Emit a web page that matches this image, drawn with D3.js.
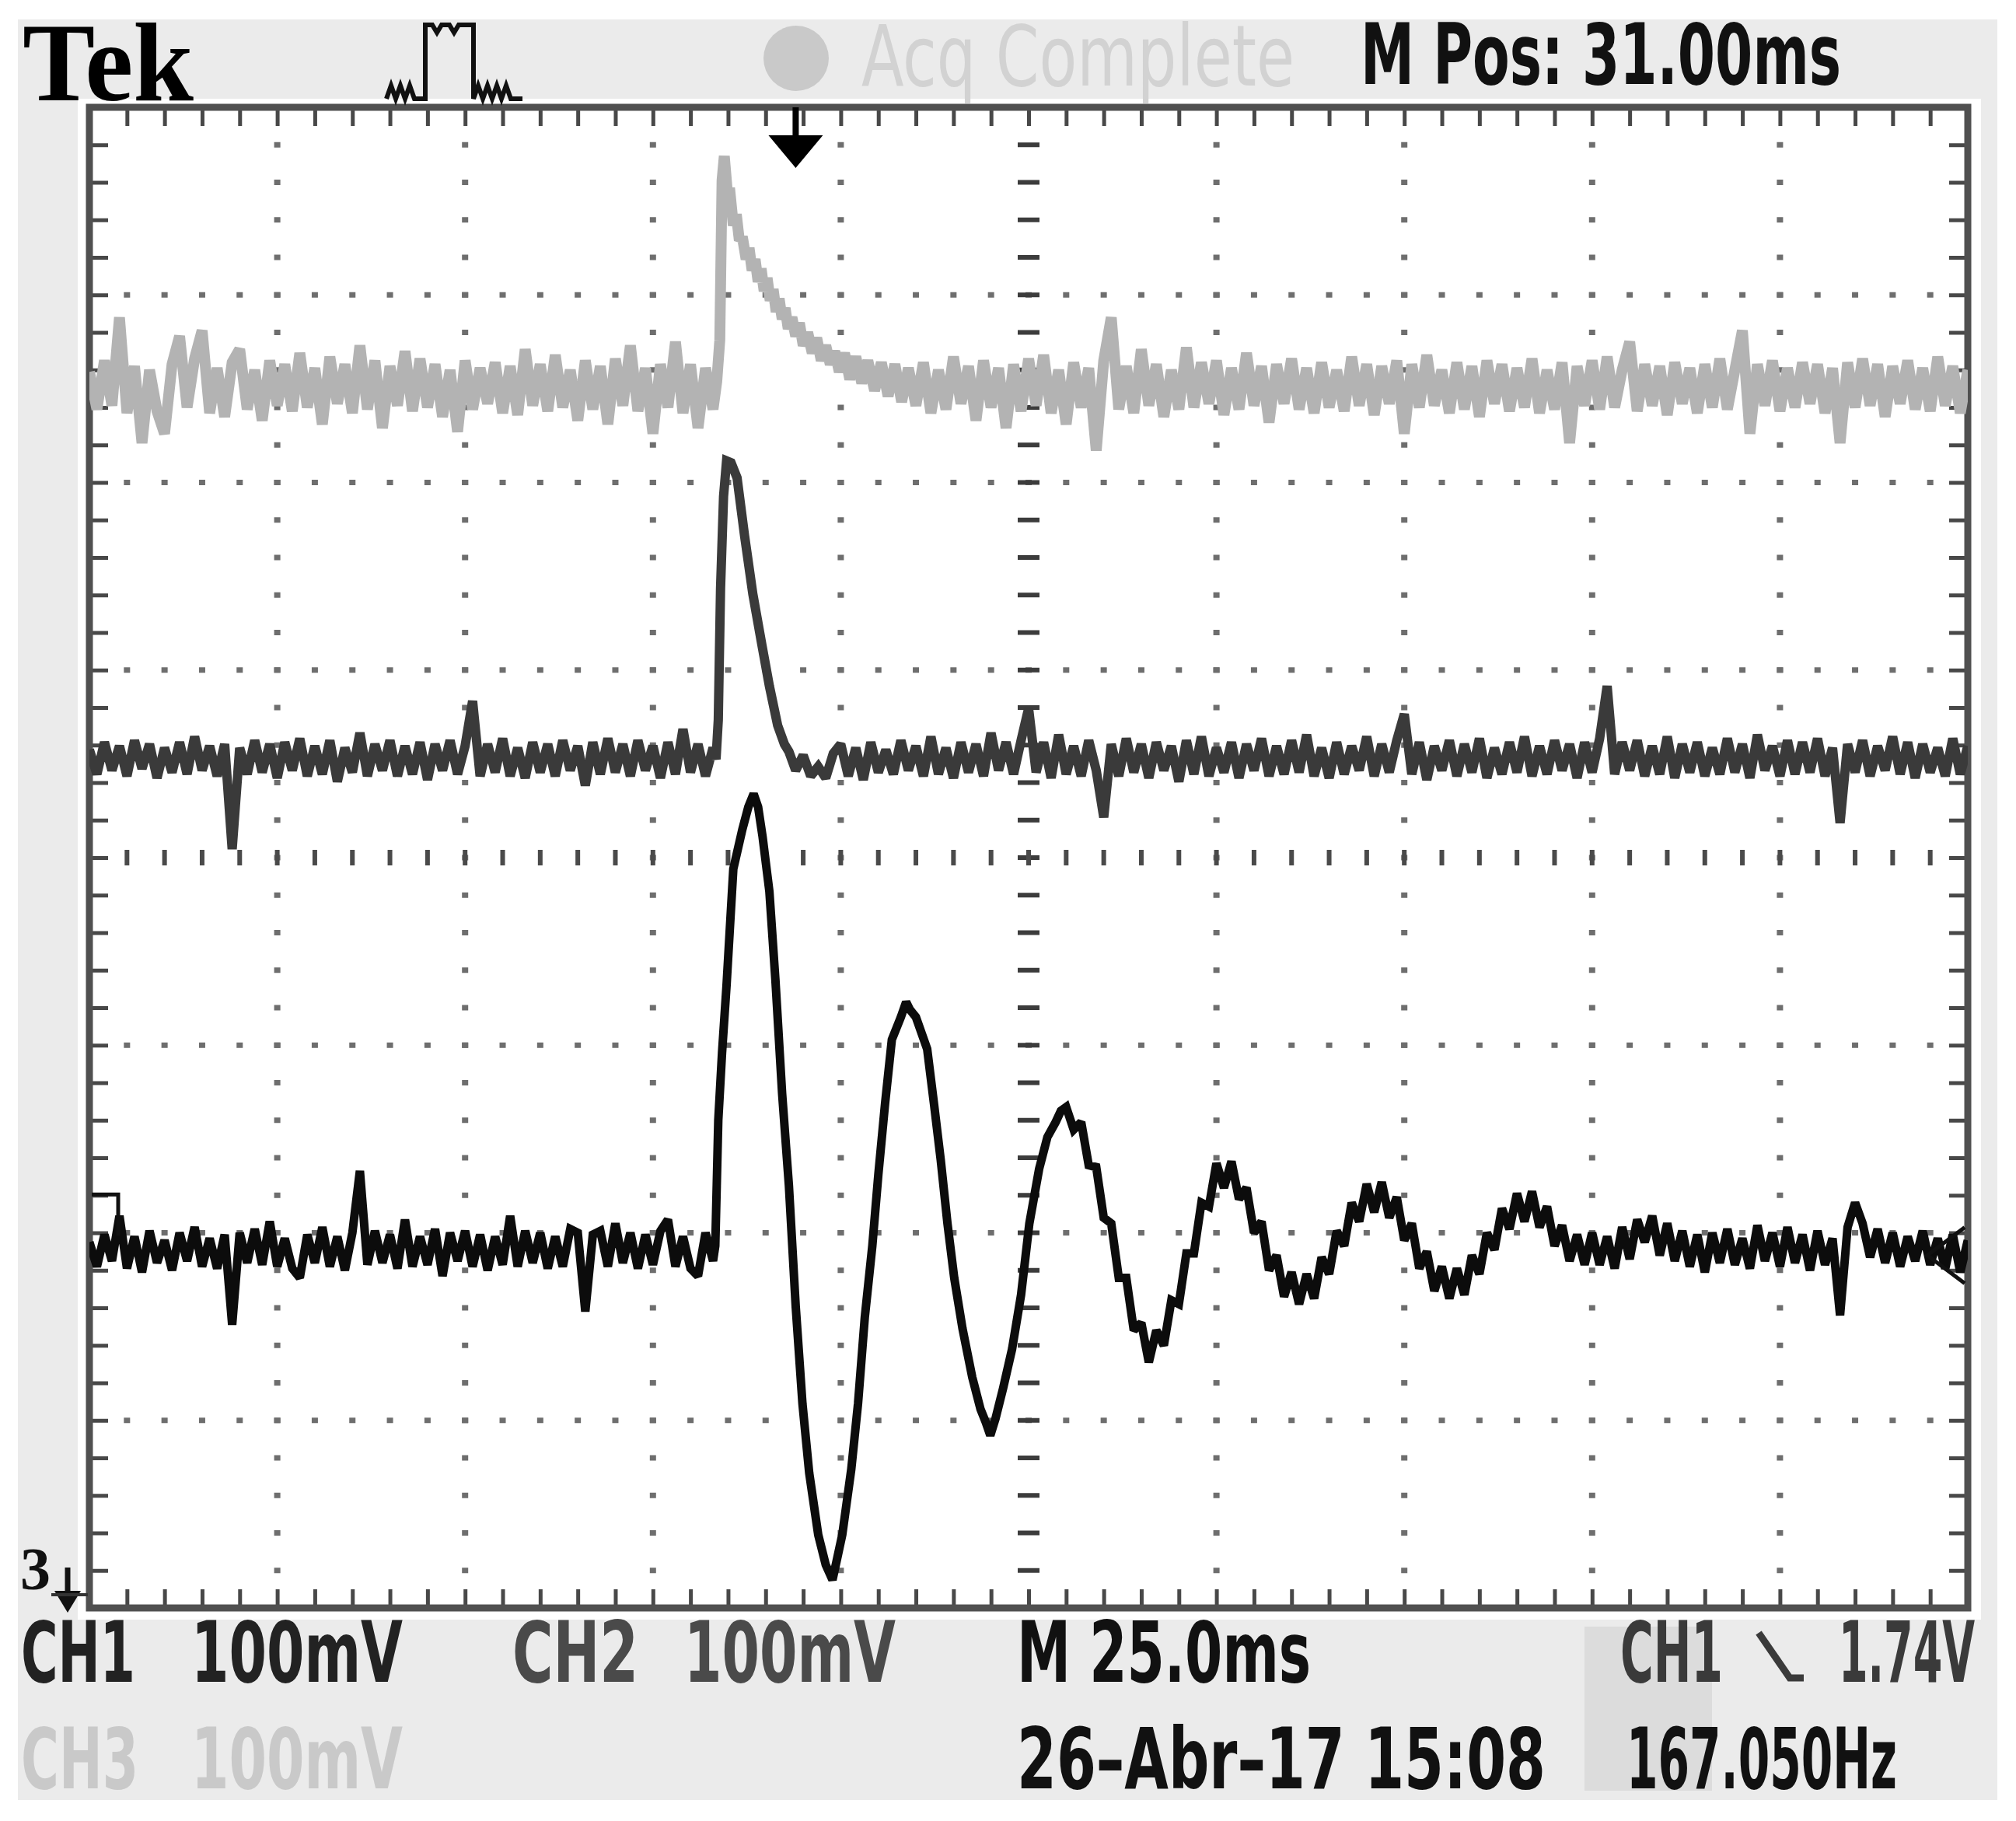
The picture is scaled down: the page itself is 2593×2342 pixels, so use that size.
<!DOCTYPE html>
<html>
<head>
<meta charset="utf-8">
<script src="https://cdn.jsdelivr.net/npm/d3@7"></script>
<style>
  body { margin: 0; background: #fff; }
</style>
</head>
<body>
<div id="chart"></div>
<script>
// ---- data (time in ms relative to trigger, values in mV relative to channel baseline) ----
var time_range = [-94, 156];   // 10 div x 25 ms, trigger 31 ms left of centre
var div_range = [-4, 4];       // 8 vertical divisions, 100 mV/div

var ch1_offset = -2.09;        // channel positions in divisions
var ch2_offset = 0.525;
var ch3_offset = 2.51;

var ch1_points = [
  [-94,4],[-93,-9],[-92,8],[-91,-6],[-90,18],[-89,-10],[-88,7],[-87,-12],[-86,10],[-85,-7],[-84,5],[-83,-11],[-82,9],[-81,-6],[-80,12],[-79,-9],[-78,6],[-77,-10],[-76,8],[-75,-40],
  [-74,9],[-73,-7],[-72,11],[-71,-8],[-70,15],[-69,-9],[-68,6],[-67,-10],[-66,-15],[-65,8],[-64,-7],[-63,12],[-62,-9],[-61,7],[-60,-11],[-59,9],[-58,42],[-57,-8],[-56,10],[-55,-7],
  [-54,8],[-53,-10],[-52,16],[-51,-9],[-50,7],[-49,-8],[-48,11],[-47,-14],[-46,9],[-45,-6],[-44,10],[-43,-9],[-42,8],[-41,-11],[-40,7],[-39,-8],[-38,18],[-37,-9],[-36,10],[-35,-7],
  [-34,9],[-33,-10],[-32,7],[-31,-9],[-30,11],[-29,9],[-28,-33],[-27,8],[-26,10],[-25,-9],[-24,14],[-23,-7],[-22,9],[-21,-10],[-20,8],[-19,-8],[-18,10],[-17,16],[-16,-9],[-15,7],
  [-14,-10],[-13,-14],[-12,9],[-11,-6],
  [-10.7,2],[-10.3,69],[-9.8,105],[-9.2,141],[-8.3,203],[-7.1,224],[-6.3,236],[-5.6,243],[-5,236],[-4.4,220],[-3.5,191],[-2.7,144],[-1.8,83],[-0.9,34],[0,-30],[0.9,-82],
  [1.8,-119],[3,-152],[4,-168],[4.9,-176],[5.5,-165],[6.2,-152],[7.4,-117],[8.3,-82],[9.2,-36],[10.2,2],[11,40],[11.9,78],[12.8,112],[14,124],[14.7,132],[15.2,128],[16,124],
  [17.5,107],[18.4,78],[19.3,48],[20.2,14],[21.1,-15],[22.2,-42],[23.5,-68],[24.6,-85],[25.3,-92],[25.9,-99],[26.6,-90],[27.6,-74],[28.8,-53],[30,-24],[31.1,14],[32.4,43],
  [33.5,60],[34.6,68],[35.3,74],
  [36,76],[37,64],[38,68],[39,45],[40,44],[41,17],[42,14],[43,-15],[44,-15],[45,-43],[46,-39],[47,-60],[48,-43],[49,-51],[50,-27],[51,-29],[52,-2],[53,-2],[54,25],[55,23],
  [56,46],[57,33],[58,47],[59,27],[60,33],[61,9],[62,15],[63,-11],[64,-3],[65,-25],[66,-12],[67,-29],[68,-13],[69,-26],[70,-4],[71,-13],[72,10],[73,2],[74,25],[75,15],
  [76,35],[77,20],[78,36],[79,17],[80,28],[81,5],[82,14],[83,-10],[84,-1],[85,-22],[86,-9],[87,-26],[88,-10],[89,-24],[90,-3],[91,-13],[92,9],[93,0],[94,22],[95,11],
  [96,30],[97,15],[98,31],[99,12],[100,23],[101,2],[102,13],[103,-6],[104,8],[105,-8],
  [106,9],[107,-8],[108,7],[109,-10],[110,12],[111,-5],[112,16],[113,4],[114,18],[115,-3],[116,14],[117,-6],[118,10],[119,-9],[120,8],[121,-12],[122,9],[123,-7],[124,11],[125,-8],
  [126,6],[127,-10],[128,13],[129,-6],[130,9],[131,-9],[132,12],[133,-7],[134,8],[135,-11],[136,10],[137,-8],[138,6],[139,-35],[140,12],[141,25],[142,14],[143,-4],[144,11],[145,-7],
  [146,9],[147,-9],[148,7],[149,-6],[150,10],[151,-8],[152,6],[153,-10],[154,8],[155,-12],[156,5]
];

var ch2_points = [
  [-94,5],[-93,-8],[-92,9],[-91,-6],[-90,7],[-89,-9],[-88,10],[-87,-5],[-86,8],[-85,-10],[-84,6],[-83,-7],[-82,9],[-81,-8],[-80,12],[-79,-6],[-78,7],[-77,-9],[-76,8],[-75,-48],
  [-74,6],[-73,-8],[-72,10],[-71,-7],[-70,8],[-69,-10],[-68,9],[-67,-6],[-66,11],[-65,-9],[-64,7],[-63,-8],[-62,10],[-61,-12],[-60,6],[-59,-7],[-58,14],[-57,-9],[-56,8],[-55,-6],
  [-54,10],[-53,-9],[-52,7],[-51,-8],[-50,9],[-49,-11],[-48,8],[-47,-6],[-46,10],[-45,-8],[-44,7],[-43,31],[-42,-9],[-41,8],[-40,-7],[-39,11],[-38,-9],[-37,6],[-36,-10],[-35,9],
  [-34,-7],[-33,8],[-32,-9],[-31,10],[-30,-6],[-29,7],[-28,-14],[-27,9],[-26,-8],[-25,11],[-24,-7],[-23,8],[-22,-9],[-21,10],[-20,-6],[-19,7],[-18,-10],[-17,9],[-16,-8],[-15,16],
  [-14,-7],[-13,8],[-12,-9],[-11,6],
  [-10.6,0],[-10.3,21],[-10,91],[-9.6,140],[-9.2,159],[-8.6,158],[-7.8,150],[-6.8,119],[-5.7,88],[-4.5,61],[-3.5,39],[-2.4,18],[-1.5,8],[-0.9,4],[0,-6],[1,2],[2,-9],[3,-4],[4,-10],[5,3],
  [6,8],[7,-9],[8,6],[9,-11],[10,9],[11,-7],[12,5],[13,-8],[14,10],[15,-6],[16,7],[17,-9],[18,12],[19,-8],[20,6],[21,-10],[22,9],[23,-7],[24,8],[25,-9],
  [26,14],[27,-6],[28,9],[29,-8],[30,10],[31,27],[32,-7],[33,9],[34,-10],[35,13],[36,-8],[37,7],[38,-9],[39,10],[40,-6],[41,-31],[42,8],[43,-9],[44,11],[45,-7],
  [46,8],[47,-10],[48,9],[49,-6],[50,7],[51,-12],[52,10],[53,-8],[54,12],[55,-9],[56,6],[57,-7],[58,9],[59,-10],[60,8],[61,-6],[62,11],[63,-9],[64,7],[65,-8],
  [66,10],[67,-7],[68,13],[69,-9],[70,6],[71,-10],[72,9],[73,-8],[74,7],[75,-6],[76,12],[77,-9],[78,8],[79,-7],[80,10],[81,24],[82,-8],[83,9],[84,-11],[85,7],
  [86,-6],[87,10],[88,-9],[89,8],[90,-7],[91,11],[92,-10],[93,6],[94,-8],[95,9],[96,-7],[97,12],[98,-9],[99,7],[100,-8],[101,10],[102,-6],[103,8],[104,-10],[105,9],
  [106,-7],[107,11],[108,39],[109,-8],[110,9],[111,-6],[112,10],[113,-9],[114,7],[115,-8],[116,12],[117,-10],[118,8],[119,-7],[120,9],[121,-9],[122,6],[123,-8],[124,11],[125,-7],
  [126,8],[127,-10],[128,13],[129,-6],[130,7],[131,-9],[132,10],[133,-8],[134,9],[135,-7],[136,11],[137,-9],[138,6],[139,-34],[140,8],[141,-7],[142,10],[143,-9],[144,7],[145,-6],
  [146,12],[147,-8],[148,9],[149,-10],[150,8],[151,-7],[152,6],[153,-9],[154,11],[155,-8],[156,7]
];

var ch3_points = [
  [-94,8],[-93,-12],[-92,14],[-91,-10],[-90,37],[-89,-14],[-88,11],[-87,-30],[-86,9],[-85,-13],[-84,-25],[-83,12],[-82,27],[-81,-11],[-80,15],[-79,30],[-78,-14],[-77,10],[-76,-16],[-75,13],
  [-74,20],[-73,-12],[-72,9],[-71,-18],[-70,14],[-69,-10],[-68,12],[-67,-13],[-66,18],[-65,-11],[-64,10],[-63,-20],[-62,16],[-61,-9],[-60,12],[-59,-14],[-58,22],[-57,-12],[-56,14],[-55,-22],
  [-54,11],[-53,-10],[-52,19],[-51,-13],[-50,15],[-49,-11],[-48,12],[-47,-16],[-46,9],[-45,-24],[-44,14],[-43,-12],[-42,10],[-41,-9],[-40,13],[-39,-14],[-38,11],[-37,-15],[-36,20],[-35,-10],
  [-34,12],[-33,-13],[-32,17],[-31,-11],[-30,9],[-29,-18],[-28,14],[-27,-12],[-26,11],[-25,-20],[-24,15],[-23,-10],[-22,22],[-21,-13],[-20,10],[-19,-25],[-18,12],[-17,-11],[-16,24],[-15,-14],
  [-14,12],[-13,-22],[-12,10],[-11,-12],
  [-10.5,3],[-10.1,25],[-9.8,110],[-9.5,123],[-9.1,104],[-8.8,106],[-8.3,86],[-7.9,92],[-7.5,78],[-7.1,80],[-6.6,68],[-6.2,74],[-5.8,62],[-5.4,68],[-5,56],[-4.6,63],[-4.2,51],[-3.8,58],
  [-3.4,46],[-3,52],[-2.6,40],[-2.2,47],[-1.8,36],[-1.4,42],[-1,31],[-0.5,37],[0,27],[0.5,34],[1,22],[1.6,29],[2.2,18],[2.8,26],[3.4,14],[4,22],[4.6,12],[5.2,19],[5.8,8],[6.5,18],
  [7.2,4],[8,16],[8.8,2],[9.6,14],[10.5,-2],[11.4,13],[12.3,-5],[13.2,12],[14.1,-8],[15,10],
  [16,-10],[17,13],[18,-14],[19,9],[20,-12],[21,16],[22,-9],[23,11],[24,-18],[25,14],[26,-11],[27,10],[28,-22],[29,12],[30,-13],[31,15],[32,-10],[33,17],[34,-14],[35,9],
  [36,-20],[37,13],[38,-11],[39,10],[40,-34],[41,14],[42,37],[43,-12],[44,11],[45,-14],[46,20],[47,-10],[48,12],[49,-16],[50,9],[51,-12],[52,21],[53,-11],[54,13],[55,-9],
  [56,14],[57,-15],[58,10],[59,-12],[60,18],[61,-10],[62,11],[63,-19],[64,12],[65,-9],[66,15],[67,-12],[68,10],[69,-14],[70,13],[71,-11],[72,9],[73,-13],[74,16],[75,-10],
  [76,12],[77,-15],[78,11],[79,-9],[80,14],[81,-25],[82,12],[83,-11],[84,17],[85,-10],[86,9],[87,-14],[88,13],[89,-12],[90,11],[91,-16],[92,14],[93,-9],[94,12],[95,-13],
  [96,10],[97,-11],[98,15],[99,-14],[100,9],[101,-12],[102,13],[103,-30],[104,11],[105,-10],[106,14],[107,-12],[108,16],[109,-11],[110,9],[111,24],[112,-13],[113,12],[114,-10],[115,11],
  [116,-15],[117,13],[118,-9],[119,10],[120,-14],[121,12],[122,-11],[123,15],[124,-12],[125,9],[126,30],[127,-25],[128,12],[129,-10],[130,14],[131,-13],[132,10],[133,-11],[134,13],[135,-9],
  [136,12],[137,-14],[138,10],[139,-30],[140,13],[141,-11],[142,15],[143,-10],[144,12],[145,-16],[146,11],[147,-9],[148,14],[149,-12],[150,10],[151,-13],[152,16],[153,-10],[154,11],[155,-14],[156,9]
];

var header_labels = ["Tek", "Acq Complete", "M Pos: 31.00ms"];
var footer_row1 = ["CH1", "100mV", "CH2", "100mV", "M 25.0ms", "CH1", "1.74V"];
var footer_row2 = ["CH3", "100mV", "26–Abr–17 15:08", "167.050Hz"];

// ---- layout ----
var width = 2593;
var height = 2342;
var margin = {"left": 115, "right": 2593 - 2531, "top": 138, "bottom": 2342 - 2068};
var narrow = "'Liberation Sans Narrow', 'DejaVu Sans Condensed', 'Liberation Sans', sans-serif";

var svg = d3.select("#chart")
    .append("svg")
    .attr("width", width)
    .attr("height", height);

// screen backgrounds
svg.append("rect").attr("x", 23).attr("y", 25).attr("width", 2546).attr("height", 2290).attr("fill", "#ebebeb");
svg.append("rect").attr("x", 2038).attr("y", 2092).attr("width", 164).attr("height", 211).attr("fill", "#dcdcdc");
svg.append("rect").attr("x", 100).attr("y", 127).attr("width", 2448).attr("height", 1956).attr("fill", "#ffffff");

var x_scale = d3.scaleLinear()
    .domain(time_range)
    .range([margin.left, width - margin.right]);

var y_scale = d3.scaleLinear()
    .domain(div_range)
    .range([height - margin.bottom, margin.top]);

// ---- graticule ----
var major_t = d3.range(1, 10).map(function(i) { return time_range[0] + 25 * i; });
var major_v = d3.range(-3, 4);
var minor_t = d3.range(time_range[0] + 5, time_range[1] - 1, 5);
var minor_v = d3.range(-3.8, 3.9, 0.2);
var centre_t = time_range[0] + 125;

var grid = svg.append("g").attr("class", "grid");
major_t.forEach(function(t) {
  if (t === centre_t) return;
  grid.selectAll(null).data(minor_v).enter().append("rect")
    .attr("x", x_scale(t) - 4).attr("y", function(v) { return y_scale(v) - 3.5; })
    .attr("width", 8).attr("height", 7).attr("fill", "#6e6e6e");
});
major_v.forEach(function(v) {
  if (v === 0) return;
  grid.selectAll(null).data(minor_t).enter().append("rect")
    .attr("x", function(t) { return x_scale(t) - 4; }).attr("y", y_scale(v) - 3.5)
    .attr("width", 8).attr("height", 7).attr("fill", "#6e6e6e");
});
// centre cross with heavier marks
grid.selectAll(null).data(minor_v).enter().append("rect")
  .attr("x", x_scale(centre_t) - 14).attr("y", function(v) { return y_scale(v) - 3; })
  .attr("width", 28).attr("height", 6).attr("fill", "#3c3c3c");
grid.selectAll(null).data(minor_t).enter().append("rect")
  .attr("x", function(t) { return x_scale(t) - 3; }).attr("y", y_scale(0) - 10)
  .attr("width", 6).attr("height", 20).attr("fill", "#4a4a4a");

// frame ticks through d3 axes, pointing inward
function frame_axis(axis, tx, ty) {
  var g = svg.append("g")
    .attr("transform", "translate(" + tx + "," + ty + ")")
    .call(axis.tickSize(-24).tickSizeOuter(0).tickFormat(""));
  g.select(".domain").remove();
  g.selectAll(".tick line").attr("stroke", "#484848").attr("stroke-width", 5);
}
frame_axis(d3.axisTop(x_scale).tickValues(minor_t), 0, margin.top);
frame_axis(d3.axisBottom(x_scale).tickValues(minor_t), 0, height - margin.bottom);
frame_axis(d3.axisLeft(y_scale).tickValues(minor_v), margin.left, 0);
frame_axis(d3.axisRight(y_scale).tickValues(minor_v), width - margin.right, 0);

svg.append("rect")
  .attr("x", margin.left).attr("y", margin.top)
  .attr("width", width - margin.left - margin.right)
  .attr("height", height - margin.top - margin.bottom)
  .attr("fill", "none").attr("stroke", "#505050").attr("stroke-width", 9);

// ---- traces ----
svg.append("clipPath").attr("id", "screen").append("rect")
  .attr("x", margin.left).attr("y", margin.top)
  .attr("width", width - margin.left - margin.right)
  .attr("height", height - margin.top - margin.bottom);

function trace(points, offset, colour, w) {
  var line = d3.line()
    .x(function(d) { return x_scale(d[0]); })
    .y(function(d) { return y_scale(offset + d[1] / 100); });
  svg.append("path")
    .datum(points)
    .attr("clip-path", "url(#screen)")
    .attr("d", line)
    .attr("fill", "none")
    .attr("stroke", colour)
    .attr("stroke-width", w)
    .attr("stroke-linejoin", "miter")
    .attr("stroke-miterlimit", 2);
}
trace(ch3_points, ch3_offset, "#b3b3b3", 14);
trace(ch2_points, ch2_offset, "#3a3a3a", 12);
trace(ch1_points, ch1_offset, "#0c0c0c", 11);

// ---- markers ----
var tx0 = x_scale(0);
svg.append("line").attr("x1", tx0).attr("x2", tx0).attr("y1", margin.top).attr("y2", 178)
  .attr("stroke", "#000").attr("stroke-width", 8);
svg.append("path").attr("d", "M" + (tx0 - 35) + ",174L" + (tx0 + 35) + ",174L" + tx0 + ",216Z").attr("fill", "#000");

var ch1_y = y_scale(ch1_offset);
svg.append("path")
  .attr("d", "M" + (margin.left + 3) + "," + (ch1_y - 71) + "H" + (margin.left + 37) + "V" + (ch1_y - 18))
  .attr("fill", "none").attr("stroke", "#111").attr("stroke-width", 5);
var trig_y = y_scale(ch1_offset - 0.03);
svg.append("path")
  .attr("d", "M" + (width - margin.right - 4) + "," + (trig_y - 36) + "L" + (width - margin.right - 52) + "," + trig_y + "L" + (width - margin.right - 4) + "," + (trig_y + 36))
  .attr("fill", "none").attr("stroke", "#111").attr("stroke-width", 5);

// CH3 off-screen marker
svg.append("text").attr("x", 26).attr("y", 2044).attr("font-size", 78).attr("font-weight", "bold")
  .attr("font-family", "'Liberation Serif', serif").attr("fill", "#111").text("3");
svg.append("line").attr("x1", 87).attr("x2", 87).attr("y1", 2016).attr("y2", 2050).attr("stroke", "#111").attr("stroke-width", 7);
svg.append("path").attr("d", "M70,2046L104,2046L87,2074Z").attr("fill", "#111");
svg.append("line").attr("x1", 66).attr("x2", 113).attr("y1", 2051).attr("y2", 2051).attr("stroke", "#333").attr("stroke-width", 4);

// ---- text: tall narrow display font, drawn smaller and stretched vertically ----
function put_text(txt, x0, x1, base, size, stretch, colour, family, weight) {
  svg.append("text")
    .attr("transform", "translate(" + x0 + "," + base + ") scale(1," + stretch + ")")
    .attr("x", 0).attr("y", 0)
    .attr("textLength", x1 - x0)
    .attr("lengthAdjust", "spacingAndGlyphs")
    .attr("font-size", size)
    .attr("font-family", family || narrow)
    .attr("font-weight", weight || "bold")
    .attr("fill", colour)
    .text(txt);
}

put_text(header_labels[0], 29, 249, 129, 115, 1.25, "#000", "'Liberation Serif', 'DejaVu Serif', serif", "bold");
svg.append("path")
  .attr("d", "M497,127L503,110L509,127L515,110L521,127L527,110L533,127L547,127L547,32L556,32L562,42L568,32L578,32L584,42L590,32L609,32L609,127L615,110L621,127L627,110L633,127L639,110L645,127L651,110L657,127L672,127")
  .attr("fill", "none").attr("stroke", "#111").attr("stroke-width", 6);
svg.append("circle").attr("cx", 1024).attr("cy", 75).attr("r", 42).attr("fill", "#c9c9c9");
put_text(header_labels[1], 1108, 1665, 110, 80, 1.35, "#d2d2d2", null, "normal");
put_text(header_labels[2], 1750, 2368, 108, 80, 1.35, "#111");

var row1_x = [[27, 174], [246, 518], [659, 821], [880, 1152], [1308, 1686], [2084, 2216], [2365, 2540]];
var row1_col = ["#222", "#222", "#4a4a4a", "#4a4a4a", "#111", "#3a3a3a", "#3a3a3a"];
footer_row1.forEach(function(s, i) { put_text(s, row1_x[i][0], row1_x[i][1], 2163, 72, 1.5, row1_col[i]); });
svg.append("path").attr("d", "M2262,2100L2302,2158L2320,2158")
  .attr("fill", "none").attr("stroke", "#3a3a3a").attr("stroke-width", 9);

var row2_x = [[27, 178], [246, 518], [1308, 1988], [2092, 2440]];
var row2_col = ["#c9c9c9", "#c9c9c9", "#111", "#111"];
footer_row2.forEach(function(s, i) { put_text(s, row2_x[i][0], row2_x[i][1], 2300, 72, 1.5, row2_col[i]); });
</script>
</body>
</html>
